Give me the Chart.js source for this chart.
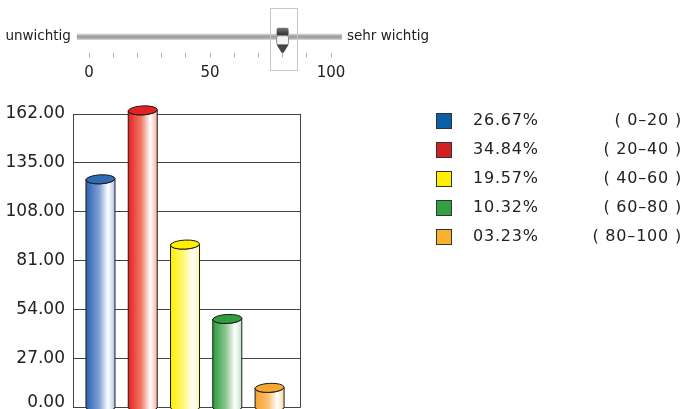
<!DOCTYPE html>
<html>
<head>
<meta charset="utf-8">
<script src="https://cdn.jsdelivr.net/npm/chart.js@4.4.0/dist/chart.umd.min.js"></script>
<style>
html, body { margin: 0; padding: 0; background: #fff; }
body { width: 684px; height: 409px; position: relative; overflow: hidden; }
#slider { position: absolute; left: 0; top: 0; }
#chart { position: absolute; left: 0; top: 90px; }
</style>
</head>
<body>
<canvas id="slider" width="684" height="90"></canvas>
<canvas id="chart" width="684" height="336"></canvas>
<script>
// answer groups and their share
var ranges = ['( 0–20 )', '( 20–40 )', '( 40–60 )', '( 60–80 )', '( 80–100 )'];
var shares = ['26.67%', '34.84%', '19.57%', '10.32%', '03.23%'];
var counts = [126, 164, 90, 49, 11];
var yMax = 162, yStep = 27;

// importance scale on top
var scaleMin = 0, scaleMax = 100, scaleStep = 10;
var scaleLabels = [0, 50, 100];
var sliderValue = 80;
var trackFrom = -5, trackTo = 104.5;
var leftText = 'unwichtig', rightText = 'sehr wichtig';

var topColors = ['#2f6cb5', '#e42222', '#fff000', '#2f9e3e', '#f8a830'];
var legendColors = ['#0a5fa6', '#d42020', '#ffee00', '#32a040', '#f9b030'];
var gradStops = [
    ['#2a62ae', '#7f9fd6', '#ffffff', '#b4c4e8'],
    ['#e8201c', '#f07a68', '#ffffff', '#f4b0a0'],
    ['#fff000', '#fff77a', '#ffffff', '#fff4a0'],
    ['#2a9a3a', '#8cc690', '#ffffff', '#c2e2c2'],
    ['#f7a02c', '#fbc070', '#ffffff', '#fcd8a0']
];

var font = 'DejaVu Sans';

var sliderPlugin = {
    id: 'sliderDeco',
    beforeDatasetsDraw: function(chart) {
        var ctx = chart.ctx, xs = chart.scales.x, ys = chart.scales.y;
        var cy = ys.getPixelForValue(0.5);
        var x1 = xs.getPixelForValue(trackFrom), x2 = xs.getPixelForValue(trackTo);
        ctx.save();
        var g = ctx.createLinearGradient(0, cy - 3, 0, cy + 3);
        g.addColorStop(0, '#d6d6d6');
        g.addColorStop(0.5, '#989898');
        g.addColorStop(1, '#c4c4c4');
        ctx.fillStyle = g;
        ctx.fillRect(x1, cy - 3, x2 - x1, 6);

        ctx.fillStyle = '#222';
        ctx.font = '13.5px ' + font;
        ctx.textBaseline = 'middle';
        ctx.textAlign = 'right';
        ctx.fillText(leftText, x1 - 6, cy);
        ctx.textAlign = 'left';
        ctx.fillText(rightText, x2 + 5, cy);

        // thumb
        var tx = xs.getPixelForValue(sliderValue);
        ctx.strokeStyle = '#c8c8c8';
        ctx.lineWidth = 1;
        ctx.strokeRect(Math.round(tx) - 12.5, 8.5, 27, 62);

        var cap = ctx.createLinearGradient(0, cy - 9, 0, cy - 2);
        cap.addColorStop(0, '#777');
        cap.addColorStop(1, '#333');
        ctx.fillStyle = cap;
        ctx.beginPath();
        ctx.roundRect(tx - 6, cy - 9, 12, 8, 2);
        ctx.fill();

        ctx.fillStyle = '#f4f4f4';
        ctx.strokeStyle = '#888';
        ctx.beginPath();
        ctx.roundRect(tx - 6, cy - 1, 12, 9, 2);
        ctx.fill();
        ctx.stroke();

        ctx.fillStyle = '#444';
        ctx.beginPath();
        ctx.moveTo(tx - 6, cy + 8);
        ctx.lineTo(tx + 6, cy + 8);
        ctx.lineTo(tx + 1, cy + 16);
        ctx.lineTo(tx - 1, cy + 16);
        ctx.closePath();
        ctx.fill();
        ctx.restore();
    }
};

new Chart(document.getElementById('slider'), {
    type: 'scatter',
    data: { datasets: [{ data: [{ x: sliderValue, y: 0.5 }], pointRadius: 0 }] },
    options: {
        responsive: false,
        animation: false,
        devicePixelRatio: 1,
        layout: { padding: { left: 89, right: 684 - 331, top: 21, bottom: 6 } },
        plugins: { legend: { display: false }, tooltip: { enabled: false } },
        scales: {
            x: {
                type: 'linear', min: scaleMin, max: scaleMax,
                border: { display: false },
                grid: { drawOnChartArea: false, drawTicks: true, tickLength: 5, color: '#b0b0b0' },
                ticks: {
                    stepSize: scaleStep, autoSkip: false, maxRotation: 0, padding: 7,
                    color: '#222', font: { family: font, size: 15 },
                    callback: function(v) { return scaleLabels.indexOf(v) >= 0 ? String(v) : ''; }
                }
            },
            y: { display: false, min: 0, max: 1 }
        }
    },
    plugins: [sliderPlugin]
});

var cylinderPlugin = {
    id: 'cylinders',
    beforeDatasetsDraw: function(chart) {
        var ctx = chart.ctx, a = chart.chartArea;
        ctx.save();
        ctx.strokeStyle = '#444';
        ctx.lineWidth = 1;
        ctx.beginPath();
        ctx.moveTo(Math.round(a.right) + 0.5, a.top);
        ctx.lineTo(Math.round(a.right) + 0.5, a.bottom);
        ctx.stroke();
        ctx.restore();
    },
    afterDatasetsDraw: function(chart) {
        var ctx = chart.ctx, a = chart.chartArea;
        var bars = chart.getDatasetMeta(0).data;
        ctx.save();
        bars.forEach(function(bar, i) {
            var p = bar.getProps(['x', 'y', 'base', 'width'], true);
            var rx = p.width / 2, ry = 4.5;
            var l = p.x - rx, r = p.x + rx;
            var s = gradStops[i];
            var g = ctx.createLinearGradient(l, 0, r, 0);
            g.addColorStop(0, s[0]);
            g.addColorStop(0.45, s[1]);
            g.addColorStop(0.76, s[2]);
            g.addColorStop(1, s[3]);
            ctx.fillStyle = g;
            ctx.strokeStyle = '#1a1a1a';
            ctx.lineWidth = 1;
            ctx.beginPath();
            ctx.moveTo(l, p.y);
            ctx.lineTo(l, p.base);
            ctx.ellipse(p.x, p.base, rx, ry, 0, Math.PI, 0, true);
            ctx.lineTo(r, p.y);
            ctx.ellipse(p.x, p.y, rx, ry, -0.05, 0, Math.PI, false);
            ctx.closePath();
            ctx.fill();
            ctx.stroke();

            ctx.fillStyle = topColors[i];
            ctx.beginPath();
            ctx.ellipse(p.x, p.y, rx, ry, -0.05, 0, Math.PI * 2);
            ctx.fill();
            ctx.stroke();
        });

        // legend
        ctx.font = '16px ' + font;
        ctx.textBaseline = 'middle';
        ctx.letterSpacing = '0.8px';
        for (var i = 0; i < shares.length; i++) {
            var cy = a.top + 7 + i * 29;
            ctx.fillStyle = legendColors[i];
            ctx.fillRect(436, cy - 8, 16, 16);
            ctx.strokeStyle = '#333';
            ctx.strokeRect(436.5, cy - 7.5, 15, 15);
            ctx.fillStyle = '#222';
            ctx.textAlign = 'left';
            ctx.fillText(shares[i], 473, cy);
            ctx.textAlign = 'right';
            ctx.fillText(ranges[i], 682, cy);
        }
        ctx.restore();
    }
};

var points = counts.map(function(v, i) { return { x: i, y: v }; });

new Chart(document.getElementById('chart'), {
    type: 'bar',
    data: {
        datasets: [{
            data: points,
            backgroundColor: 'rgba(0,0,0,0)',
            borderWidth: 0,
            barThickness: 29,
            clip: false
        }]
    },
    options: {
        responsive: false,
        animation: false,
        devicePixelRatio: 1,
        layout: { padding: { left: 0, right: 684 - 300, top: 24, bottom: 2 } },
        plugins: { legend: { display: false }, tooltip: { enabled: false } },
        scales: {
            x: { type: 'linear', display: false, offset: false, min: -0.65, max: 4.72 },
            y: {
                min: 0, max: yMax,
                afterFit: function(scale) { scale.width = 73; },
                border: { color: '#444', width: 1 },
                grid: { color: '#444', lineWidth: 1, drawTicks: false },
                ticks: {
                    stepSize: yStep, padding: 8, color: '#222',
                    font: function(c) {
                        // lift the bottom label a little so it stays inside the picture
                        return { family: font, size: 17, lineHeight: c.tick && c.tick.value === 0 ? 0.6 : 1.2 };
                    },
                    callback: function(v) { return v === 0 ? [v.toFixed(2), ''] : v.toFixed(2); }
                }
            }
        }
    },
    plugins: [cylinderPlugin]
});
</script>
</body>
</html>
